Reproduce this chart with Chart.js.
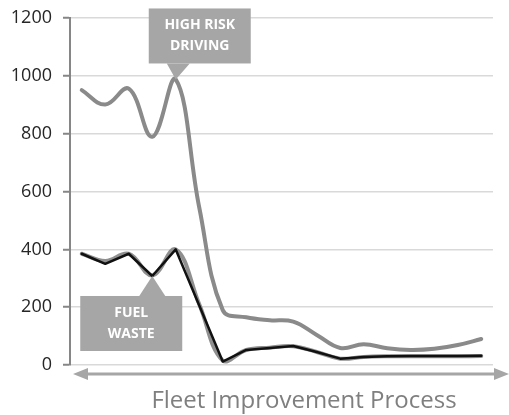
<!DOCTYPE html>
<html><head><meta charset="utf-8">
<script src="https://cdn.jsdelivr.net/npm/chart.js@4/dist/chart.umd.min.js"></script>
<style>html,body{margin:0;padding:0;background:#fff}#wrap{position:relative;width:509px;height:415px}</style>
</head><body><div id="wrap"><canvas id="c" width="509" height="415" style="width:509px;height:415px"></canvas></div>
<script>
// ---- data ----
const categories = ['1','2','3','4','5','6','7','8','9','10','11','12','13','14','15','16','17','18'];
const highRiskDriving = [951, 901, 956, 790, 988, 545, 190, 165, 155, 150, 104, 59, 72, 58, 52, 56, 69, 90];
const fuelWasteTrend  = [385, 360, 385, 310, 400, 210, 15, 52, 60, 65, 45, 22, 28, 30, 30, 30, 30, 31];
const fuelWaste       = [385, 350, 385, 308, 400, 206, 12, 52, 59, 66, 45, 22, 28, 30, 31, 31, 31, 32];
const yTicks = [0, 200, 400, 600, 800, 1000, 1200];
const axisTitle = 'Fleet Improvement Process';
const highRiskLabel = ['HIGH RISK', 'DRIVING'];
const fuelWasteLabel = ['FUEL', 'WASTE'];

const FONT = '"Open Sans", "Liberation Sans", sans-serif';

const decor = {
  id: 'decor',
  afterDatasetsDraw(chart) {
    const ctx = chart.ctx, xs = chart.scales.x, ys = chart.scales.y, ca = chart.chartArea;
    ctx.save();
    // double-headed arrow under the plot
    const ay = ca.bottom + 9, x0 = 73, x1 = 509;
    ctx.fillStyle = '#a6a6a6';
    ctx.fillRect(x0 + 12, ay - 1.5, x1 - x0 - 24, 3);
    ctx.beginPath(); ctx.moveTo(x0, ay); ctx.lineTo(x0 + 15, ay - 6); ctx.lineTo(x0 + 15, ay + 6); ctx.closePath(); ctx.fill();
    ctx.beginPath(); ctx.moveTo(x1, ay); ctx.lineTo(x1 - 15, ay - 6); ctx.lineTo(x1 - 15, ay + 6); ctx.closePath(); ctx.fill();

    // axis title
    ctx.fillStyle = '#7f7f7f';
    ctx.font = '24px ' + FONT;
    ctx.textAlign = 'center'; ctx.textBaseline = 'middle';
    ctx.fillText(axisTitle, 304, ca.bottom + 36);

    function callout(lines, idx, val, down) {
      const tx = xs.getPixelForValue(idx), ty = ys.getPixelForValue(val);
      const w = 102, h = 55;
      let bx, by;
      ctx.fillStyle = '#a6a6a6';
      ctx.beginPath();
      if (down) {
        bx = tx - 27; by = ty - 16 - h;
        ctx.moveTo(tx, ty); ctx.lineTo(tx - 9, by + h); ctx.lineTo(tx + 14, by + h);
      } else {
        bx = tx - 72; by = ty + 20;
        ctx.moveTo(tx, ty); ctx.lineTo(tx - 13, by); ctx.lineTo(tx + 13, by);
      }
      ctx.closePath(); ctx.fill();
      ctx.fillRect(bx, by, w, h);
      ctx.fillStyle = '#ffffff';
      ctx.font = 'bold 14px ' + FONT;
      ctx.textAlign = 'center'; ctx.textBaseline = 'middle';
      ctx.fillText(lines[0], bx + w / 2, by + 17);
      ctx.fillText(lines[1], bx + w / 2, by + 38);
    }
    callout(highRiskLabel, 4, highRiskDriving[4], true);
    callout(fuelWasteLabel, 3, fuelWaste[3], false);
    ctx.restore();
  }
};

new Chart(document.getElementById('c'), {
  type: 'line',
  data: {
    labels: categories,
    datasets: [
      { label: 'Fuel waste', data: fuelWaste, borderColor: '#111111', borderWidth: 2.5, tension: 0, order: 0 },
      { label: 'Fuel waste trend', data: fuelWasteTrend, borderColor: '#8f8f8f', borderWidth: 4, tension: 0.4, order: 1 },
      { label: 'High risk driving', data: highRiskDriving, borderColor: '#8a8a8a', borderWidth: 4, tension: 0.4, order: 2 }
    ]
  },
  options: {
    responsive: false,
    animation: false,
    devicePixelRatio: 1,
    layout: { padding: { top: 18, right: 16, left: 0, bottom: 0 } },
    elements: { point: { radius: 0 }, line: { borderCapStyle: 'round', borderJoinStyle: 'round' } },
    plugins: { legend: { display: false }, tooltip: { enabled: false } },
    scales: {
      x: {
        offset: true,
        grid: { display: false },
        border: { display: false },
        ticks: { display: false },
        afterFit(s) { s.height = 50; }
      },
      y: {
        min: 0, max: 1200,
        afterBuildTicks(s) { s.ticks = yTicks.map(v => ({ value: v })); },
        grid: { color: '#d9d9d9', lineWidth: 1.5, tickLength: 7, tickColor: '#868686', tickWidth: 2 },
        border: { color: '#868686', width: 2 },
        ticks: { color: '#262626', font: { family: FONT, size: 18, lineHeight: 0.8 }, padding: 11, callback: v => String(v) },
        afterFit(s) { s.width = 70; }
      }
    }
  },
  plugins: [decor]
});
</script></body></html>
